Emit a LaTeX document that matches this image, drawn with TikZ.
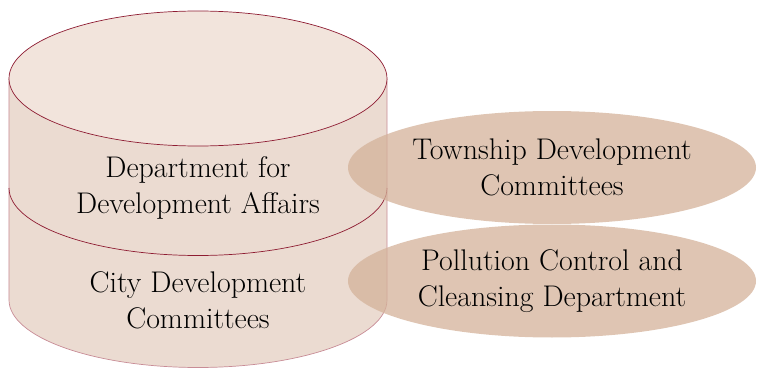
\documentclass[tikz,border=0pt]{standalone}
\usepackage{tikz}
\usetikzlibrary{shapes.geometric}
\definecolor{cylside}{RGB}{235, 219, 209}
\definecolor{cyltop}{RGB}{242, 228, 220}
\definecolor{cylred}{RGB}{142, 28, 50}
\definecolor{cylpink}{RGB}{200, 140, 150}
\definecolor{ovalfill}{RGB}{212, 178, 154}

\tikzset{
  lbl/.style={align=center, font=\fontsize{17}{20.5}\selectfont, text=black},
  oval/.style={ellipse, fill=ovalfill, fill opacity=0.75, text opacity=1,
    minimum width=8.16cm, minimum height=2.26cm, inner sep=0pt, lbl}
}

\begin{document}
\begin{tikzpicture}
  \useasboundingbox (0,0) rectangle (15.14,7.38);

  % Cylinder body (side)
  \fill[cylside] (0.18,5.81) -- (0.18,1.38) arc (180:360:3.78 and 1.35)
    -- (7.74,5.81) arc (0:-180:3.78 and 1.35) -- cycle;
  \draw[cylpink] (0.18,5.81) -- (0.18,1.38) arc (180:360:3.78 and 1.35)
    -- (7.74,5.81);

  % Layer boundary
  \draw[cylred] (0.18,3.62) arc (180:360:3.78 and 1.35);

  % Top face
  \draw[cylred, fill=cyltop] (3.96,5.81) ellipse (3.78 and 1.35);

  % Layer labels
  \node[lbl] (dda) at (3.96,3.62) {Department for\\Development Affairs};
  \node[lbl] (cdc) at (3.96,1.38) {City Development\\Committees};

  % Side ovals
  \node[oval] (tdc) at (11.04,4.03) {Township Development\\Committees};
  \node[oval] (pcc) at (11.04,1.76) {Pollution Control and\\Cleansing Department};
\end{tikzpicture}
\end{document}
